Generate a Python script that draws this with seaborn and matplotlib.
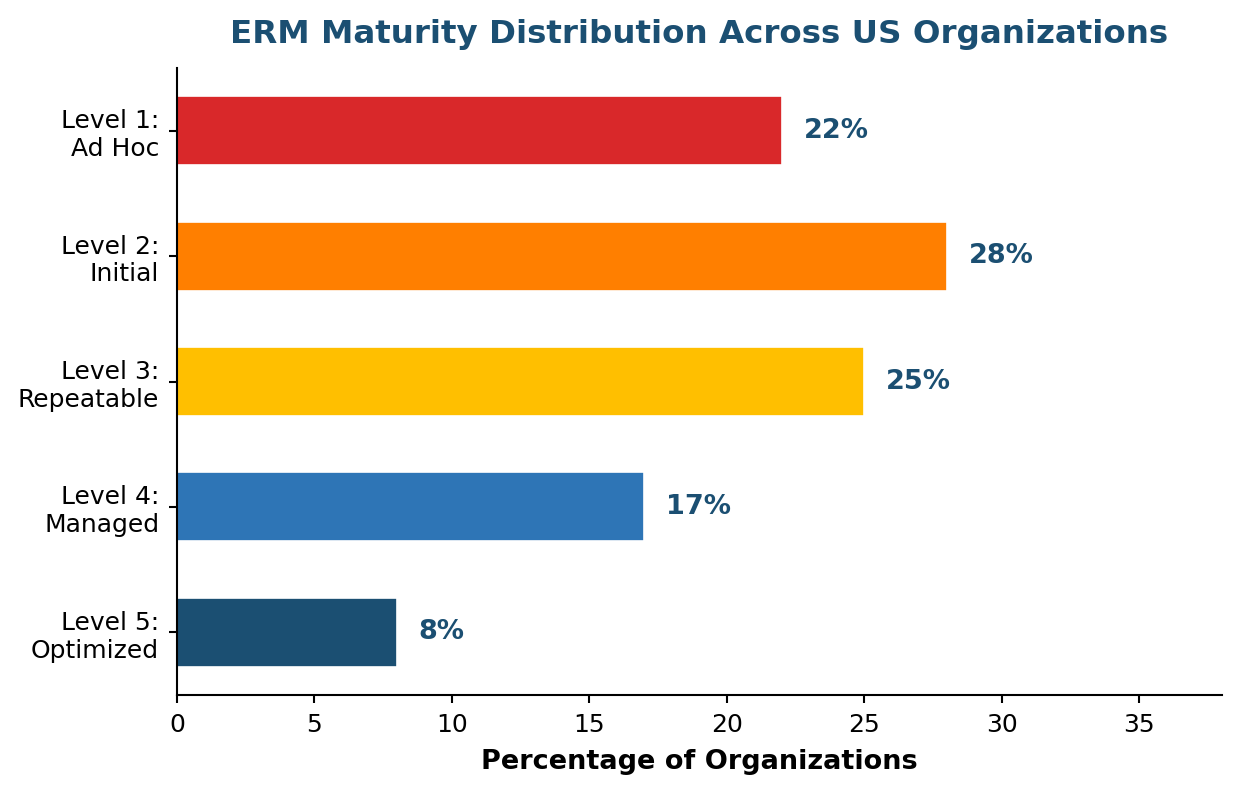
import matplotlib
matplotlib.use('Agg')
import matplotlib.pyplot as plt
import seaborn as sns
import pandas as pd

levels = ['Level 1:\nAd Hoc', 'Level 2:\nInitial', 'Level 3:\nRepeatable',
          'Level 4:\nManaged', 'Level 5:\nOptimized']
percent = [22, 28, 25, 17, 8]
colors = ['#D9282A', '#FF7F00', '#FFBF00', '#2E75B6', '#1B4F72']

df = pd.DataFrame({'level': levels, 'pct': percent})

sns.set_style('white')
plt.rcParams['font.family'] = ['DejaVu Sans']
plt.rcParams['text.color'] = 'black'
plt.rcParams['axes.labelcolor'] = 'black'
plt.rcParams['xtick.color'] = 'black'
plt.rcParams['ytick.color'] = 'black'

fig, ax = plt.subplots(figsize=(8.27, 5.28), dpi=150)
sns.barplot(data=df, y='level', x='pct', hue='level', palette=colors,
            orient='h', width=0.55, legend=False, ax=ax, saturation=1,
            edgecolor='white', linewidth=0.8)

# 막대 옆 퍼센트 표시
for i, v in enumerate(percent):
    ax.text(v + 0.8, i, f'{v}%', va='center', ha='left', fontsize=13,
            fontweight='bold', color='#1B4F72')

ax.set_xlim(0, 38)
ax.set_xticks(range(0, 40, 5))
ax.set_xlabel('Percentage of Organizations', fontsize=13, fontweight='bold',
              labelpad=6)
ax.set_ylabel('')
ax.set_title('ERM Maturity Distribution Across US Organizations', fontsize=15.6,
             fontweight='bold', color='#1B4F72', pad=12)
ax.tick_params(axis='x', labelsize=12, length=4, width=1, bottom=True, pad=4.5)
ax.tick_params(axis='y', labelsize=12, length=4, width=1, left=True, pad=4.5)
sns.despine(ax=ax)
for s in ['left', 'bottom']:
    ax.spines[s].set_color('black')
    ax.spines[s].set_linewidth(1)

fig.subplots_adjust(left=0.1426, right=0.9847, top=0.9141, bottom=0.1225)
plt.savefig('out.png', dpi=150)
